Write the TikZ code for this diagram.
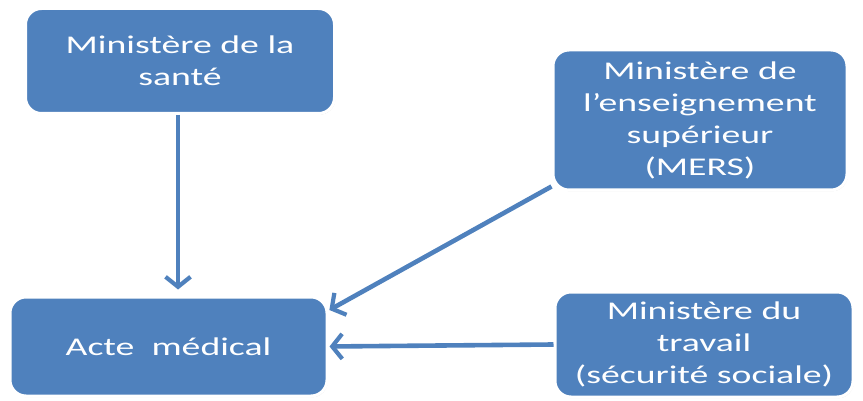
\documentclass[tikz,border=0pt]{standalone}
\usepackage{fontspec}
\setmainfont{Carlito}[FakeStretch=1.48]
\usetikzlibrary{arrows.meta,shadows}
\definecolor{boxblue}{HTML}{4F81BD}
\tikzset{
  box/.style={draw=white, line width=3pt, fill=boxblue, rounded corners=16pt,
    text=white, align=center, inner sep=0pt,
    font=\fontsize{25.5}{32}\selectfont,
    drop shadow={opacity=0.35, shadow xshift=0.8pt, shadow yshift=-1.2pt, fill=gray}},
  link/.style={draw=boxblue, line width=4.6pt, -{Straight Barb[length=10pt,width=25pt,line width=4.2pt]}}
}
\begin{document}
\begin{tikzpicture}[x=1pt,y=-1pt]
\useasboundingbox (0,0) rectangle (863,401);
\node[box, minimum width=309pt, minimum height=105pt] (sante) at (180,61) {Ministère de la\\santé};
\node[box, minimum width=294pt, minimum height=140pt] (mers) at (700,120) {Ministère de\\l’enseignement\\supérieur\\(MERS)};
\node[box, minimum width=317pt, minimum height=99pt] (acte) at (168.5,346.5) {Acte\ \ médical};
\node[box, minimum width=298pt, minimum height=105pt] (travail) at (704,344.5) {Ministère du\\travail\\(sécurité sociale)};
\draw[link, shorten >=6pt] ([xshift=-2pt]sante.south) -- ([xshift=-2pt]sante.south |- acte.north);
\draw[link, shorten >=1pt] ([yshift=5pt]mers.south west) -- ([yshift=-15pt]acte.north east);
\draw[link, shorten >=1pt] (travail.west) -- (acte.east);
\end{tikzpicture}
\end{document}
